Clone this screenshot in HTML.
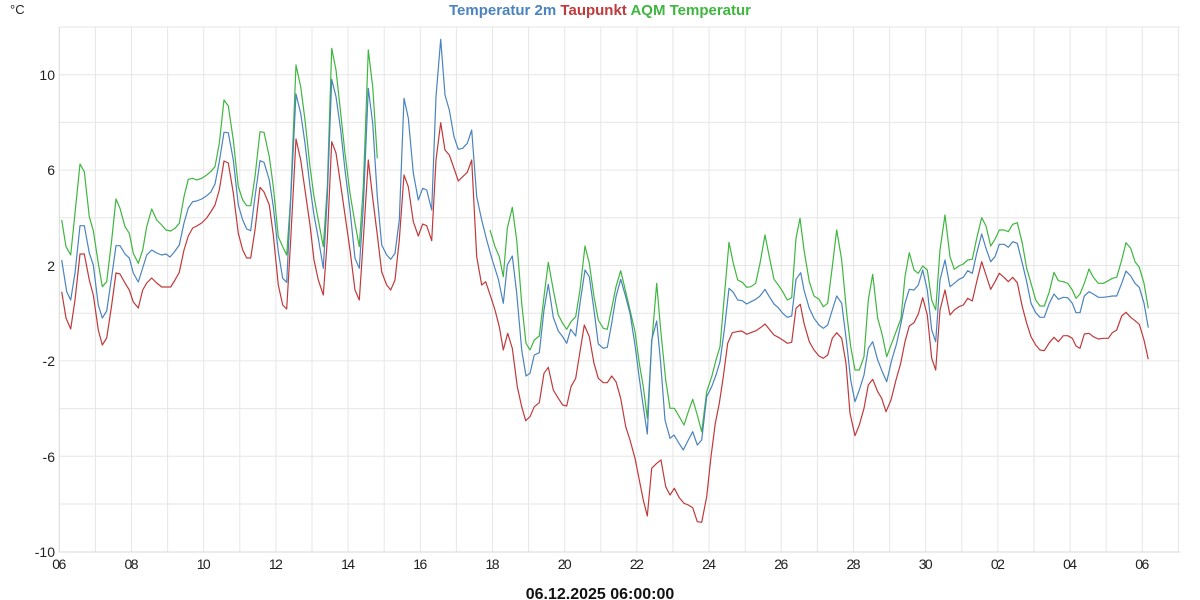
<!DOCTYPE html>
<html><head><meta charset="utf-8"><style>
html,body{margin:0;padding:0;background:#fff;}
svg{display:block;font-family:"Liberation Sans",sans-serif;}
</style></head><body>
<svg width="1200" height="600" viewBox="0 0 1200 600" xmlns="http://www.w3.org/2000/svg">
<rect width="1200" height="600" fill="#fff"/>
<g stroke="#e6e6e6" stroke-width="1">
<line x1="59" y1="27" x2="1180" y2="27"/><line x1="59" y1="74.7" x2="1180" y2="74.7"/><line x1="59" y1="122.4" x2="1180" y2="122.4"/><line x1="59" y1="170.1" x2="1180" y2="170.1"/><line x1="59" y1="217.8" x2="1180" y2="217.8"/><line x1="59" y1="265.5" x2="1180" y2="265.5"/><line x1="59" y1="313.2" x2="1180" y2="313.2"/><line x1="59" y1="360.9" x2="1180" y2="360.9"/><line x1="59" y1="408.6" x2="1180" y2="408.6"/><line x1="59" y1="456.3" x2="1180" y2="456.3"/><line x1="59" y1="504" x2="1180" y2="504"/>
</g>
<g stroke="#e6e6e6" stroke-width="1">
<line x1="95.4" y1="27" x2="95.4" y2="552"/><line x1="131.5" y1="27" x2="131.5" y2="552"/><line x1="167.6" y1="27" x2="167.6" y2="552"/><line x1="203.7" y1="27" x2="203.7" y2="552"/><line x1="239.8" y1="27" x2="239.8" y2="552"/><line x1="275.9" y1="27" x2="275.9" y2="552"/><line x1="312" y1="27" x2="312" y2="552"/><line x1="348.1" y1="27" x2="348.1" y2="552"/><line x1="384.2" y1="27" x2="384.2" y2="552"/><line x1="420.3" y1="27" x2="420.3" y2="552"/><line x1="456.4" y1="27" x2="456.4" y2="552"/><line x1="492.5" y1="27" x2="492.5" y2="552"/><line x1="528.6" y1="27" x2="528.6" y2="552"/><line x1="564.7" y1="27" x2="564.7" y2="552"/><line x1="600.8" y1="27" x2="600.8" y2="552"/><line x1="636.9" y1="27" x2="636.9" y2="552"/><line x1="673" y1="27" x2="673" y2="552"/><line x1="709.1" y1="27" x2="709.1" y2="552"/><line x1="745.2" y1="27" x2="745.2" y2="552"/><line x1="781.3" y1="27" x2="781.3" y2="552"/><line x1="817.4" y1="27" x2="817.4" y2="552"/><line x1="853.5" y1="27" x2="853.5" y2="552"/><line x1="889.6" y1="27" x2="889.6" y2="552"/><line x1="925.7" y1="27" x2="925.7" y2="552"/><line x1="961.8" y1="27" x2="961.8" y2="552"/><line x1="997.9" y1="27" x2="997.9" y2="552"/><line x1="1034" y1="27" x2="1034" y2="552"/><line x1="1070.1" y1="27" x2="1070.1" y2="552"/><line x1="1106.2" y1="27" x2="1106.2" y2="552"/><line x1="1142.3" y1="27" x2="1142.3" y2="552"/><line x1="1178.4" y1="27" x2="1178.4" y2="552"/>
</g>
<line x1="59.3" y1="27" x2="59.3" y2="552" stroke="#d8d8d8"/>
<line x1="59" y1="552" x2="1180" y2="552" stroke="#d8d8d8"/>
<g font-size="14" fill="#222" text-anchor="end">
<text x="55" y="80">10</text><text x="55" y="175">6</text><text x="55" y="271">2</text><text x="55" y="366">-2</text><text x="55" y="462">-6</text><text x="55" y="557">-10</text>
</g>
<g font-size="14" fill="#222" text-anchor="middle">
<text x="59.3" y="569" textLength="14">06</text><text x="131.5" y="569" textLength="14">08</text><text x="203.7" y="569" textLength="14">10</text><text x="275.9" y="569" textLength="14">12</text><text x="348.1" y="569" textLength="14">14</text><text x="420.3" y="569" textLength="14">16</text><text x="492.5" y="569" textLength="14">18</text><text x="564.7" y="569" textLength="14">20</text><text x="636.9" y="569" textLength="14">22</text><text x="709.1" y="569" textLength="14">24</text><text x="781.3" y="569" textLength="14">26</text><text x="853.5" y="569" textLength="14">28</text><text x="925.7" y="569" textLength="14">30</text><text x="997.9" y="569" textLength="14">02</text><text x="1070.1" y="569" textLength="14">04</text><text x="1142.3" y="569" textLength="14">06</text>
</g>
<text x="10" y="14" font-size="13" fill="#222">°C</text>
<text x="600" y="15" font-size="15" font-weight="bold" text-anchor="middle"><tspan fill="#4a83bf">Temperatur 2m</tspan> <tspan fill="#c0393b">Taupunkt</tspan> <tspan fill="#3fb63f">AQM Temperatur</tspan></text>
<text x="600" y="599" font-size="16" font-weight="bold" fill="#111" text-anchor="middle">06.12.2025 06:00:00</text>
<g fill="none" stroke-width="1.2" stroke-linejoin="round">
<polyline stroke="#3fb63f" points="61.7,220 66,246.7 70.7,255 75,213.3 80,164 84.3,171.7 89.3,216.7 93.3,230.7 98.3,263.3 102.3,286.7 106.7,281.7 111.7,240 116,199 120,208.3 125,226.7 129.3,233.3 133.3,253.3 138.3,263.3 142.7,250 146.7,226.7 151.7,209 156.7,220 161.7,225 166,230 170.7,231 175,228.3 179.3,223.3 184,196.7 188.3,179.3 192.7,178.3 196.7,180 201.7,178.3 206.7,175 210.7,171.7 215,166.7 219.3,143.3 224,100 228.3,106 233.3,140 238.3,186.7 242.7,200 246.7,205.7 250.7,205.7 255,176.7 260,131.7 264,132.3 269.3,156.7 273.3,186.7 278.3,236.7 282.7,246.7 286.7,255 290.7,196.7 296,65 300.7,86.7 305,120 310,166.7 314,196.7 318.3,220 323.3,246.7 327.3,186.7 331.7,48.3 336,70 340.7,113.3 345,153.3 350,193.3 355,223.3 359.3,246.7 363.3,186.7 368.3,50 372.7,86.7 377.3,158.3"/>
<polyline stroke="#3fb63f" points="490,230 495,246.7 499.3,256.7 503.3,276.7 507.3,228.3 512.3,207.3 516.7,240 521.7,303.3 526,343.3 530,350 534.3,340 539.3,336 544,296.7 548.3,262.3 553.3,290 558.3,315 562.7,323.3 566.7,329.3 571,321.7 575.7,316.7 580,290 585,246 589.3,263.3 594,296.7 598.3,320 603.3,328.3 607.3,329.3 611.7,308.3 616,286.7 620.7,270.7 625.7,291.7 630,310 635,331.7 639.3,363.3 643.3,386.7 647.3,418.3 651.7,343.3 656.7,283.3 660.7,330 665.7,380 670,408.3 674.3,408.3 679.3,416.7 684,425 688.3,411.7 692.7,399.3 697.3,415 701.7,431.7 706.7,391.7 711.7,376.7 716,360 720,346.7 724.3,296.7 729,242.3 733.3,263.3 737.7,280 742.3,282.3 746.7,287.3 751,286.7 755.7,283.3 760,263.3 765,235 769.3,256.7 774,279.3 778.3,285 782.7,291.7 787.3,300 791.7,297.7 796,238.3 800,218.3 804,250 809.3,281.7 814,296 819,299.3 823.3,306.7 827.7,303.3 832.3,266.7 836.7,230 841.7,260 846.7,313.3 850.7,346.7 855,370 859.3,370 864,356.7 868.3,300 872.7,274.3 877.7,318.3 882.3,335 886.7,356.7 891.7,343.3 896.7,330 901,318.3 905,276.7 909.3,252.7 914,270 918.3,273.3 922.7,266 927.3,270 931.7,300 935.7,310 940,250 945,215 950,256.7 954.3,269.3 959,266 963.3,264 967.7,260 972.3,259.3 976.7,238.3 981.7,217.7 986,226 990.7,246 995,239.3 999.3,230 1004,230 1008.3,231.7 1012.7,224.3 1017.3,222.7 1022.3,243.3 1026.7,268.3 1031,283.3 1035.7,300 1040,306 1044.3,306 1049.3,291.7 1054,272.3 1058.3,280.7 1063.3,281.7 1067.7,283.3 1072.3,290 1076,298.3 1080,294 1084.3,283.3 1089,269 1093.3,277.3 1098.3,283.3 1103.3,283.3 1108.3,280.7 1112.3,278.3 1116.7,277.3 1121.7,260 1126,242.7 1130.7,248.3 1135,261.7 1139.3,267.3 1144,283.3 1148.3,308.3"/>
<polyline stroke="#c0393b" points="61.7,291.7 66,318 70.7,329 75,300 80,254 84.3,254 89.3,280 93.3,295 98.3,330 102.3,345 106.7,338 111.7,305 116,273 120,274 125,283 129.3,290 133.3,302 138.3,308 142.7,290 146.7,283 151.7,278 156.7,283 161.7,287 166,287 170.7,287 175,280 179.3,272.3 184,250 188.3,236 192.7,228 196.7,226 201.7,223 206.7,218 210.7,212 215,205 219.3,190 224,161 228.3,163 233.3,193 238.3,233.3 242.7,250 246.7,258 250.7,258 255,230 260,187.3 264,192 269.3,205 273.3,235 278.3,285 282.7,305 286.7,309 290.7,240 296,139 300.7,160 305,190 310,225 314,260 318.3,280 323.3,295 327.3,240 331.7,141.7 336,153 340.7,185 345,215 350,250 355,290 359.3,300 363.3,240 368.3,160 372.7,198 377.3,235 381.7,272 386.7,285 390.7,290 395,280 399.3,240 404,175 408.3,186.7 413.3,221.7 418.3,236 422.7,224 426.7,225.7 431.7,240.7 436,160 440.7,122.7 445,150 449.3,155 454,168.3 458.3,181 462.7,176.7 467.3,172.3 471.7,160 476.7,256.7 481.7,285 485.7,281.7 490.7,296.7 495,310 499.3,326.7 503.3,350 507.7,333.3 512.3,348.3 517.3,386.7 521.7,406.7 525.7,420.7 530,416.7 534.3,406.7 539.3,402.7 544,373.3 548.3,367.3 553.3,390 558.3,398.3 562.7,405 566.7,406 571,386.7 575.7,378.3 580,351.7 584.3,325 589.3,336.7 594,363.3 598.3,378.3 603.3,382.7 607.3,382.7 611.7,376 616,381.7 620.7,398.3 625.7,426.7 630,440 635,458.3 639.3,480 643.3,500 647.3,516 651.7,468.3 656.7,463.3 661,460 665.7,486.7 670,495 674.3,488.3 679.3,497.7 684,503.3 688.3,505 692.7,507.7 697.3,521.7 701.7,522.3 706.7,496.7 711,456.7 715.3,423.3 719.3,403.3 723.3,376.7 727.7,343.3 732.3,332.7 736.7,331.7 741.7,331 746.7,334.3 751.7,332.3 756,330.7 761,327.3 765,324 769.3,329.3 774,335 778.3,337.3 782.7,340 787.3,343.3 791.7,342.3 796,308.3 800.3,304.3 804,323.3 809.3,341.7 814,350 819,356 823.3,358.3 827.7,355 832.3,338.3 836.7,332.7 841.7,338.3 846,363.3 850,413.3 855,435.7 859.3,425 864,408.3 868.3,385 872.7,379.3 877.7,391.7 881.7,398.3 886,411.7 891,400 896,380 900.7,363.3 905,341.7 909.3,326 914,322.7 918.3,314 922.7,297.7 927.3,315 931.7,358.3 935.7,370 940,310 945,290 950,315 954.3,310 959,306.7 963.3,305 967.7,298.3 972.3,301 976.7,281.7 981.7,261.7 986,275 990.7,289.3 995,281.7 999.3,273.3 1004,277.3 1008.3,281.7 1012.7,277.3 1017.3,282.7 1022.3,306.7 1026.7,323.3 1031,336.7 1035.7,345 1040,350 1044.3,350.7 1049.3,342.7 1054,337.3 1058.3,341.7 1063.3,335.7 1067.7,335.7 1072.3,338.3 1076,346 1080,348.3 1084.3,334 1089,333.3 1093.3,336.7 1098.3,339 1103.3,338.3 1108.3,338.3 1112.3,332.7 1116.7,330 1121.7,316 1126,312.3 1130.7,317.3 1135,320.7 1139.3,324.3 1144,340 1148.3,359.3"/>
<polyline stroke="#4a83bf" points="61.7,260 66.7,291.7 70.7,300 75,273 80,225.7 84.3,225.7 89.3,253 93.3,265 98.3,305 102.3,318 106.7,311 111.7,276.7 116,245.7 120,245.7 125,254 129.3,258 133.3,273 138.3,282 142.7,268 146.7,255 151.7,250 156.7,253 161.7,255 166,254 170,257 174.3,252 179.3,245 184,223 188.3,208 192.7,201.7 196.7,201 201.7,199 206.7,195.7 210.7,192.3 215,184 219.3,161.7 224,132.3 228.3,132.7 233.3,160 238.3,205 242.7,220 246.7,229 250.7,230.7 255,196.7 260,160.7 264,162.3 269.3,180 273.3,206.7 278.3,251.7 282.7,278.3 286.7,282.3 290.7,200 296,94 300.7,113.3 305,143.3 310,186.7 314,215 318.3,238.3 323.3,268.3 327.3,196.7 331.7,79.3 336,96.7 340.7,130 345,170 350,210 355,258.3 359.3,268.3 363.3,206.7 368.3,88.3 372.7,123.3 377.3,196.7 381.7,245 386.7,255 390.7,259.3 395,253.3 399.3,220 404,98.3 408.3,118 413.3,173 418.3,200 422.7,188.3 426.7,190 431.7,210 436,96.7 440.7,39.3 445,95 449.3,110 454,136.7 458.3,149.3 462.7,148.3 467.3,143.3 471.7,130 476.7,196.7 481.7,220 486.7,240 491.7,258 498.3,279 503.3,303.3 507.3,265 512.3,256 516.7,293 521.7,350 526,376 530,373.3 534.3,355 539.3,352.7 544,310 548.3,284.3 553.3,317.3 558.3,331 562.7,336.7 566.7,343.3 570.7,329.3 575.7,336 580,303.3 585,270 589.3,276.7 594,310 598.3,344 603.3,348.3 607.3,347.3 611.7,323.3 616,296.7 620.7,279.3 625.7,296.7 630,313.3 635,345 639.3,378.3 643.3,406.7 647.3,434 651.7,340 656.7,321 660.7,363.3 665,420 670,438.3 674,435 679,443.3 683.3,450 688.3,440 692.7,431.7 697.3,445 701.7,440 706.7,396.7 711.7,386.7 716,375 720,361.7 724.3,330 729,288.3 733.3,292.3 737.7,300 742.3,300.7 746.7,304 751,301.7 755.7,299.3 760,296 765,289.3 769.3,296.7 774,304 778.3,307.7 782.7,313.3 787.3,317.3 791.7,316 796,279.3 800.7,272.7 804,290 809.3,308.3 814,318.3 819,325 823.3,328.3 827.7,325 832.3,310 836.7,296 841.7,303.3 846.7,343.3 850.7,380 855,401.7 859.3,390 864,375 868.3,348.3 872.7,341.7 877.7,360 882.3,371.7 886.7,381.7 891.7,360 896.7,343.3 901,323.3 905,303.3 909.3,289.3 914,290 918.3,285 922.7,270 927.3,290 931.7,330 935.7,341.7 940,280 945,260 950,286.7 954.3,283.3 959,279.3 963.3,277.3 967.7,270.7 972.3,273.3 976.7,253.3 981.7,234 986,248.3 990.7,261.7 995,256.7 999.3,244.3 1004,244.3 1008.3,247.3 1012.7,241.7 1017.3,243.3 1022.3,263.3 1026.7,281.7 1031,303.3 1035.7,312.7 1040,317.3 1044.3,317.3 1049.3,303.3 1054,294 1058.3,299.3 1063.3,297.3 1067.7,297.7 1072.3,303.3 1076,312.7 1080,312.7 1084.3,296 1089,291.7 1093.3,294 1098.3,297.3 1103.3,297.3 1108.3,296.7 1112.3,296 1116.7,296 1121.7,283.3 1126,271 1130.7,276 1135,283.3 1139.3,287.3 1144,303.3 1148.3,327.7"/>
</g>
</svg>
</body></html>
